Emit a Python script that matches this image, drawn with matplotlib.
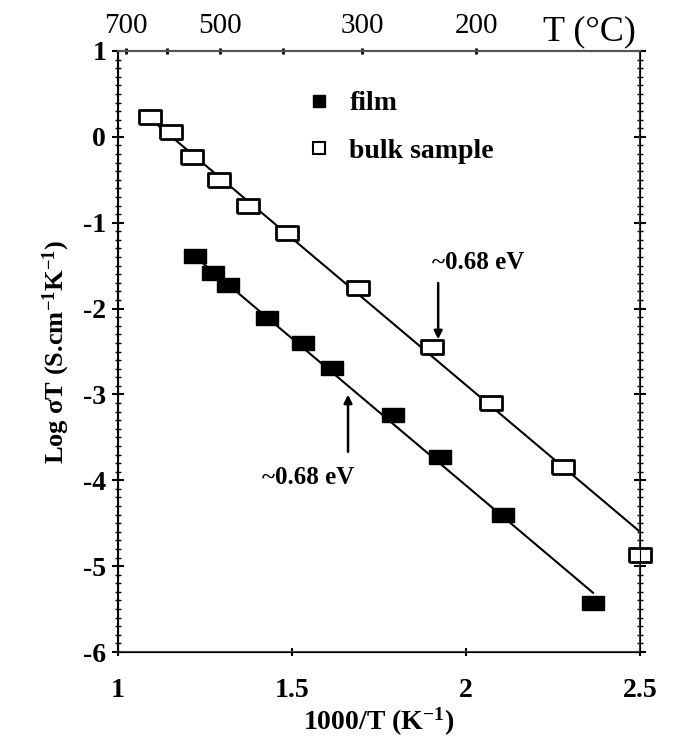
import numpy as np
import matplotlib
matplotlib.use('Agg')
import matplotlib.pyplot as plt
from matplotlib.lines import Line2D
from matplotlib.ticker import MultipleLocator

plt.rcParams['font.family'] = ['Liberation Serif', 'DejaVu Serif']
plt.rcParams['mathtext.default'] = 'regular'
plt.rcParams['axes.unicode_minus'] = False

# bulk sample (open squares)
bulk_x = [1.092, 1.152, 1.213, 1.290, 1.374, 1.486, 1.690, 1.902, 2.072, 2.279, 2.500]
bulk_y = [0.23, 0.06, -0.23, -0.50, -0.80, -1.12, -1.76, -2.45, -3.10, -3.84, -4.87]

# film (filled squares)
film_x = [1.221, 1.273, 1.316, 1.428, 1.532, 1.615, 1.790, 1.925, 2.106, 2.365]
film_y = [-1.39, -1.58, -1.72, -2.11, -2.40, -2.69, -3.24, -3.73, -4.40, -5.43]

# fitted lines (end points)
bulk_fit_x = [1.09, 2.50]
bulk_fit_y = [0.22, -4.60]
film_fit_x = [1.22, 2.365]
film_fit_y = [-1.39, -5.31]

# top axis: temperature in degC
top_tick_pos = [1.023, 1.141, 1.293, 1.474, 1.701, 2.029]
top_tick_lbl = ['700', '', '500', '', '300', '200']

rect = [(-1.6, -1), (1.6, -1), (1.6, 1), (-1.6, 1), (-1.6, -1)]

fig = plt.figure(figsize=(6.75, 7.43), dpi=100)
ax = fig.add_axes([118/675, 1 - 652/743, (640-118)/675, (652-51)/743])

ax.plot(bulk_fit_x, bulk_fit_y, color='black', lw=1.5, zorder=2)
ax.plot(film_fit_x, film_fit_y, color='black', lw=1.5, zorder=2)
ax.plot(film_x, film_y, ls='none', marker=rect, ms=16, mfc='black', mec='black', mew=1, zorder=3, clip_on=False)
ax.plot(bulk_x, bulk_y, ls='none', marker=rect, ms=16, mfc='white', mec='black', mew=2, zorder=3, clip_on=False)

ax.set_xlim(1, 2.5)
ax.set_ylim(-6, 1)
ax.set_xticks([1, 1.5, 2, 2.5])
ax.set_xticklabels(['1', '1.5', '2', '2.5'])
ax.set_yticks(range(-6, 2))
ax.yaxis.set_minor_locator(MultipleLocator(0.1))
ax.tick_params(axis='y', which='major', direction='inout', length=9, width=1.5, right=True, labelsize=20, pad=4)
ax.tick_params(axis='y', which='minor', direction='inout', length=5, width=1, right=True)
ax.tick_params(axis='x', which='major', direction='inout', length=6, width=1.5, labelsize=20, pad=16)
for lbl in ax.get_xticklabels() + ax.get_yticklabels():
    lbl.set_fontweight('bold')

for side in ['left', 'bottom', 'right', 'top']:
    ax.spines[side].set_linewidth(1.5)
ax.spines['left'].set_color('black')
ax.spines['bottom'].set_color('#444444')
ax.spines['right'].set_color('#333333')
ax.spines['top'].set_color('#555555')

ax.set_xlabel('1000/T (K$^{-1}$)', fontsize=20, fontweight='bold', labelpad=2)
ax.set_ylabel('Log σT (S.cm$^{-1}$K$^{-1}$)', fontsize=19, fontweight='bold', labelpad=8)

# top temperature axis
ax2 = ax.twiny()
ax2.set_xlim(ax.get_xlim())
ax2.set_xticks(top_tick_pos)
ax2.set_xticklabels(top_tick_lbl)
ax2.tick_params(axis='x', direction='inout', length=5, width=2, labelsize=21, pad=6)
ax2.spines['top'].set_color('#555555')
ax2.spines['top'].set_linewidth(1.5)
ax.text(0.992, 1.004, 'T (°C)', transform=ax.transAxes, ha='right', va='bottom', fontsize=26)

# legend
handles = [Line2D([], [], ls='none', marker='s', ms=9, mfc='black', mec='black'),
           Line2D([], [], ls='none', marker='s', ms=9, mfc='white', mec='black', mew=1.5)]
ax.legend(handles, ['film', 'bulk sample'], loc='upper left', bbox_to_anchor=(0.31, 0.975),
          frameon=False, prop={'size': 20, 'weight': 'bold'}, handletextpad=0.6, labelspacing=0.8,
          handlelength=1)

# activation energy annotations
ax.annotate('', xy=(1.920, -2.39), xytext=(1.920, -1.67),
            arrowprops=dict(arrowstyle='-|>', color='black', lw=1.8, mutation_scale=12))
ax.text(2.034, -1.46, '~0.68 eV', ha='center', va='center', fontsize=18, fontweight='bold')
ax.annotate('', xy=(1.661, -2.97), xytext=(1.661, -3.70),
            arrowprops=dict(arrowstyle='-|>', color='black', lw=1.8, mutation_scale=12))
ax.text(1.546, -3.97, '~0.68 eV', ha='center', va='center', fontsize=18, fontweight='bold')

fig.savefig('out.png', dpi=100)
